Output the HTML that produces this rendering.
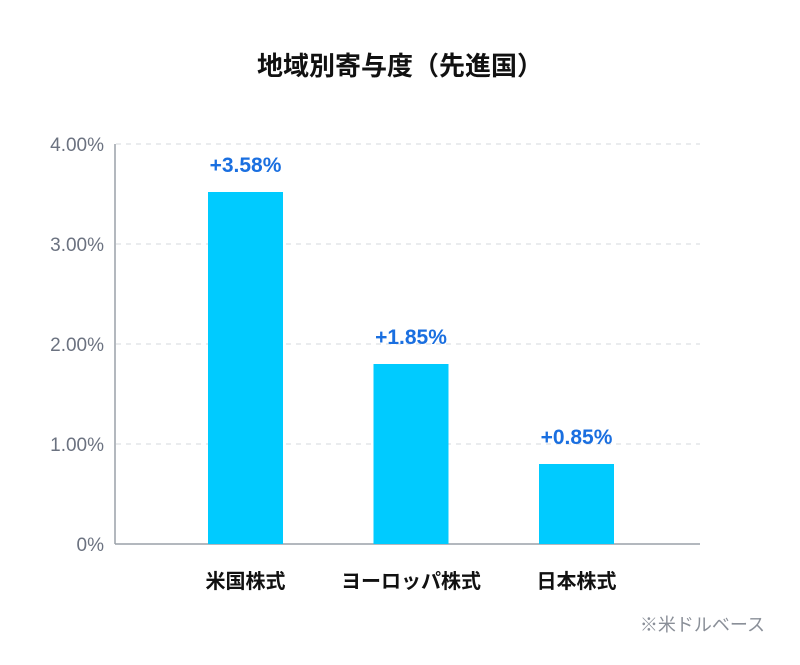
<!DOCTYPE html>
<html><head><meta charset="utf-8"><style>
body{margin:0;background:#fff;width:800px;height:660px;overflow:hidden}
text{font-family:"Liberation Sans","Noto Sans CJK JP",sans-serif}
</style></head><body>
<svg id="chart" width="800" height="660" viewBox="0 0 800 660">
<text x="400" y="75" text-anchor="middle" font-size="26" font-weight="bold" fill="#111" style="font-family:'Noto Sans CJK JP',sans-serif">地域別寄与度（先進国）</text>
<g id="grid"></g><g id="bars"></g><g id="labels"></g>
<text x="765" y="631" text-anchor="end" font-size="18" fill="#8a8f98" style="font-family:'Noto Sans CJK JP',sans-serif">※米ドルベース</text>
</svg>
<script>
const categories=["米国株式","ヨーロッパ株式","日本株式"];
const barValues=[3.52,1.80,0.80];
const valueLabels=["+3.58%","+1.85%","+0.85%"];
const yTicks=[0,1,2,3,4];
const yTickLabels=["0%","1.00%","2.00%","3.00%","4.00%"];
const NS="http://www.w3.org/2000/svg";
const y=v=>544-v*100;
const x=i=>245.5+i*165.5;
function mk(tag,attrs,parent,txt){const e=document.createElementNS(NS,tag);for(const k in attrs)e.setAttribute(k,attrs[k]);if(txt!==undefined)e.textContent=txt;parent.appendChild(e);return e;}
const g=document.getElementById('grid'),b=document.getElementById('bars'),l=document.getElementById('labels');
yTicks.forEach((t,i)=>{
 if(t>0){const gl=mk('line',{x1:116,x2:700,y1:y(t),y2:y(t),stroke:'#d5d8dd','stroke-dasharray':'5,5','stroke-width':1},g);
 
 }
 const tk=mk('text',{x:104,y:y(t)+7,'text-anchor':'end','font-size':19,fill:'#6b7280'},g,yTickLabels[i]);
 
 
});
const ya=mk('line',{x1:115,x2:115,y1:144,y2:544,stroke:'#9aa0a8','stroke-width':1.5},g);


const xa=mk('line',{x1:115,x2:700,y1:544,y2:544,stroke:'#9aa0a8','stroke-width':1.5},g);


categories.forEach((c,i)=>{
 const r=mk('rect',{x:x(i)-37.5,y:y(barValues[i]),width:75,height:barValues[i]*100,fill:'#00cbff'},b);
 
 
 const vl=mk('text',{x:x(i),y:y(barValues[i])-20,'text-anchor':'middle','font-size':21,'font-weight':'bold',fill:'#1a6fe0'},l,valueLabels[i]);
 
 
 const cl=mk('text',{x:x(i),y:588,'text-anchor':'middle','font-size':20,'font-weight':'bold',fill:'#111',style:"font-family:'Noto Sans CJK JP',sans-serif"},l,c);
 
 
});
</script>
</body></html>
